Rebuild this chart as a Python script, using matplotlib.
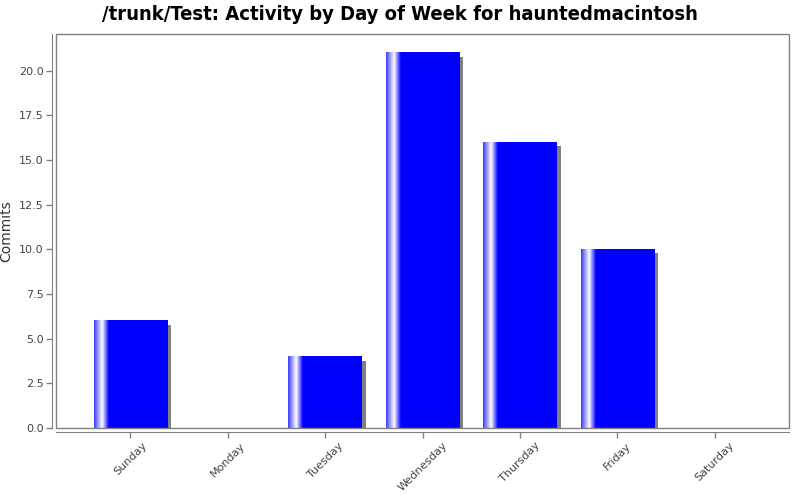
import numpy as np
import matplotlib
matplotlib.use("Agg")
import matplotlib.pyplot as plt
from matplotlib.colors import LinearSegmentedColormap
from matplotlib.patches import Rectangle

days = ["Sunday", "Monday", "Tuesday", "Wednesday", "Thursday", "Friday", "Saturday"]
commits = [6, 0, 4, 21, 16, 10, 0]
yticks = [0.0, 2.5, 5.0, 7.5, 10.0, 12.5, 15.0, 17.5, 20.0]

TITLE = "/trunk/Test: Activity by Day of Week for hauntedmacintosh"
BAR_W = 0.75

# blue -> white -> blue band on the left side of each bar
bar_cmap = LinearSegmentedColormap.from_list(
    "jfree", [(0.0, "#3a3aff"), (0.11, "#ffffff"), (0.2, "#0000ff"), (1.0, "#0000ff")]
)
grad = np.linspace(0, 1, 256).reshape(1, -1)

fig = plt.figure(figsize=(8, 5), dpi=100)
ax = fig.add_axes([56 / 800, 72 / 500, 733 / 800, 394 / 500])

# shadow offset (4px right, 4px down) in data units
px_x = (len(days) - 1 + 1.52) / 733
px_y = 22.06 / 394
for i, v in enumerate(commits):
    if v <= 0:
        continue
    x0 = i - BAR_W / 2
    ax.add_patch(Rectangle((x0 + 4 * px_x, 0), BAR_W, v - 4 * px_y,
                           facecolor="#808080", edgecolor="none", zorder=1))
    ax.imshow(grad, cmap=bar_cmap, aspect="auto", extent=[x0, x0 + BAR_W, 0, v],
              zorder=2, interpolation="bilinear")

ax.set_xlim(-0.76, len(days) - 1 + 0.76)
ax.set_ylim(0, 22.06)

ax.tick_params(axis="both", color="#808080", length=4, width=1, pad=2,
               labelsize=8, labelcolor="#444444")
ax.tick_params(axis="x", labelrotation=45)
ax.set_xticks(range(len(days)))
ax.set_xticklabels(days)
plt.setp(ax.get_xticklabels(), ha="right", rotation_mode="anchor")
ax.set_yticks(yticks)
ax.set_yticklabels([f"{t:.1f}" for t in yticks])
ax.set_ylabel("Commits", fontsize=10, color="#333333")
ax.yaxis.set_label_coords(-0.058, 0.5)

for side in ["top", "right"]:
    ax.spines[side].set_visible(False)
for side in ["left", "bottom"]:
    ax.spines[side].set_position(("outward", 3))
    ax.spines[side].set_color("#808080")

# plot area border
ax.add_patch(Rectangle((0, 0), 1, 1, transform=ax.transAxes, fill=False,
                       edgecolor="#808080", linewidth=1, clip_on=False, zorder=5))

fig.suptitle(TITLE, fontsize=14.5, fontweight="bold", fontstretch="condensed",
             y=0.99, family="DejaVu Sans")

fig.savefig("out.png", dpi=100)
